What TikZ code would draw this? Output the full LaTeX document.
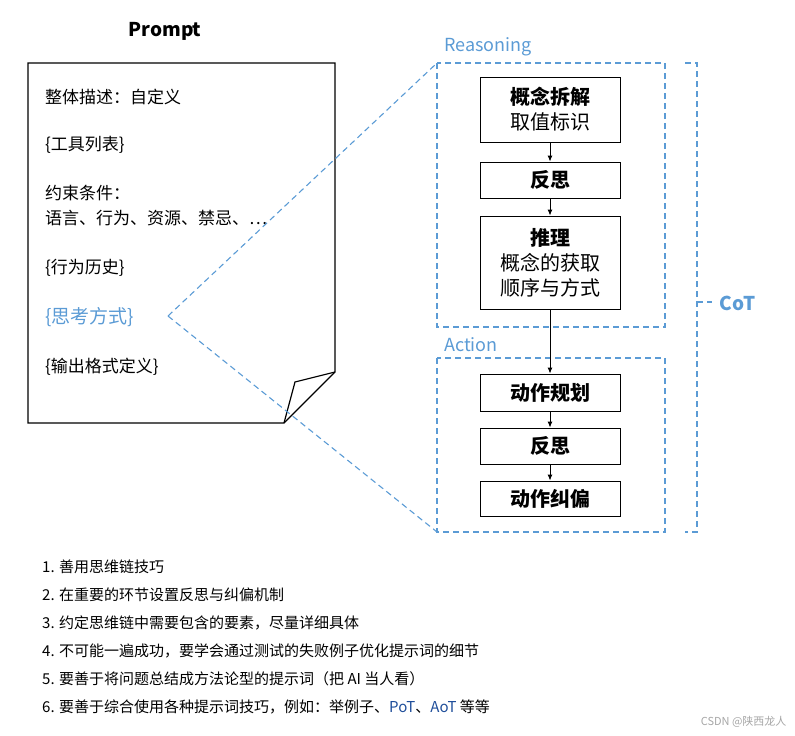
\documentclass[tikz,border=0pt]{standalone}
\usepackage{fontspec}
\setmainfont{Noto Sans CJK SC}
\usetikzlibrary{arrows.meta}
\definecolor{lblue}{HTML}{5B9BD5}
\definecolor{dblue}{HTML}{1F4E9A}
\begin{document}
\begin{tikzpicture}[x=1pt,y=-1pt,
  stepbox/.style={draw,line width=0.9pt,minimum width=140pt,align=center,font=\fontsize{20}{25}\selectfont,inner sep=1pt},
  bluedash/.style={draw=lblue,line width=1.1pt,dash pattern=on 6pt off 4pt},
  arr/.style={-{Latex[length=6pt,width=5pt]},line width=0.9pt},
  ltxt/.style={anchor=west,font=\fontsize{17}{20}\selectfont,inner sep=0pt},
  btxt/.style={anchor=west,font=\fontsize{15}{18}\selectfont,inner sep=0pt}]
\useasboundingbox (0,0) rectangle (795,736);
\node[font=\bfseries\fontsize{19}{22}\selectfont] (title) at (165,31) {Prompt};
\draw[line width=1.2pt] (28,63) -- (335,63) -- (335,372) -- (284,423) -- (28,423) -- cycle;
\draw[line width=1.2pt] (335,372) -- (295,382) -- (284,423);
\node[ltxt] (t1) at (45,97) {整体描述：自定义};
\node[ltxt] (t2) at (45,145) {\{工具列表\}};
\node[ltxt] (t3) at (45,193) {约束条件：};
\node[ltxt] (t4) at (45,218) {语言、行为、资源、禁忌、…};
\node[ltxt] (t5) at (45,268) {\{行为历史\}};
\node[ltxt,text=lblue,font=\fontsize{19}{22}\selectfont] (t6) at (45,317) {\{思考方式\}};
\node[ltxt] (t7) at (45,367) {\{输出格式定义\}};
\coordinate (tip) at (168,316);
\coordinate (r1) at (437,63);
\coordinate (r2) at (665,327);
\coordinate (a1) at (437,358);
\coordinate (a2) at (665,532);
\draw[bluedash] (r1) rectangle (r2);
\draw[bluedash] (a1) rectangle (a2);
\draw[bluedash] (tip) -- (r1);
\draw[bluedash] (tip) -- (437,532);
\node[anchor=south west,text=lblue,font=\fontsize{18}{21}\selectfont,inner sep=1pt] (rl) at (443,57) {Reasoning};
\node[anchor=south west,text=lblue,font=\fontsize{18}{21}\selectfont,inner sep=1pt] (al) at (443,353) {Action};
\draw[bluedash] (685,63) -- (697,63) -- (697,532) -- (685,532);
\draw[bluedash] (697,302) -- (712,302);
\node[text=lblue,font=\bfseries\fontsize{19}{22}\selectfont,anchor=west] (cot) at (716,303) {CoT};
\node[stepbox,minimum height=65pt] (b1) at (550,109.5) {\textbf{概念拆解}\\取值标识};
\node[stepbox,minimum height=36pt,font=\bfseries\fontsize{20}{25}\selectfont] (b2) at (550,180) {反思};
\node[stepbox,minimum height=93pt] (b3) at (550,262.5) {\textbf{推理}\\概念的获取\\顺序与方式};
\node[stepbox,minimum height=37pt,font=\bfseries\fontsize{20}{25}\selectfont] (b4) at (550,392.5) {动作规划};
\node[stepbox,minimum height=36pt,font=\bfseries\fontsize{20}{25}\selectfont] (b5) at (550,446) {反思};
\node[stepbox,minimum height=35pt,font=\bfseries\fontsize{20}{25}\selectfont] (b6) at (550,498.5) {动作纠偏};
\draw[arr] (b1) -- (b2);
\draw[arr] (b2) -- (b3);
\draw[arr] (b3) -- (b4);
\draw[arr] (b4) -- (b5);
\draw[arr] (b5) -- (b6);
\node[btxt] (l1) at (42,567) {1. 善用思维链技巧};
\node[btxt] (l2) at (42,595) {2. 在重要的环节设置反思与纠偏机制};
\node[btxt] (l3) at (42,623) {3. 约定思维链中需要包含的要素，尽量详细具体};
\node[btxt] (l4) at (42,651) {4. 不可能一遍成功，要学会通过测试的失败例子优化提示词的细节};
\node[btxt] (l5) at (42,679) {5. 要善于将问题总结成方法论型的提示词（把 AI 当人看）};
\node[btxt] (l6) at (42,707) {6. 要善于综合使用各种提示词技巧，例如：举例子、\textcolor{dblue}{PoT}、\textcolor{dblue}{AoT} 等等};
\node[anchor=east,text=gray!70,font=\fontsize{11}{13}\selectfont] (wm) at (790,722) {CSDN @陕西龙人};
\end{tikzpicture}
\end{document}
